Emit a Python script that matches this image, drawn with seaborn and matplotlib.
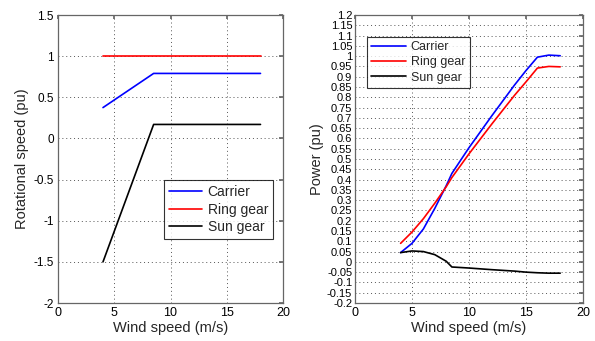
import numpy as np
import pandas as pd
import matplotlib
matplotlib.use("Agg")
import matplotlib.pyplot as plt
import seaborn as sns

# Left panel: rotational speed
speed_x = [4, 8.5, 18]
carrier_speed = [0.375, 0.79, 0.79]
ring_speed = [1.0, 1.0, 1.0]
sun_speed = [-1.5, 0.17, 0.17]

# Right panel: power
power_x = [4, 5, 6, 7, 8, 8.5, 10, 12, 14, 15, 16, 17, 18]
carrier_power = [0.045, 0.09, 0.16, 0.26, 0.37, 0.43, 0.555, 0.71, 0.86, 0.93, 0.995, 1.005, 1.002]
ring_power = [0.09, 0.145, 0.21, 0.285, 0.365, 0.41, 0.525, 0.67, 0.81, 0.875, 0.942, 0.95, 0.948]
sun_power = [0.045, 0.053, 0.05, 0.035, 0.003, -0.025, -0.03, -0.038, -0.045, -0.05, -0.053, -0.055, -0.055]

series_names = ["Carrier", "Ring gear", "Sun gear"]
colors = ["#0000ff", "#ff0000", "#000000"]

sns.set_theme(style="white")
plt.rcParams['font.family'] = ['Liberation Sans', 'DejaVu Sans']
plt.rcParams['xtick.direction'] = 'in'
plt.rcParams['ytick.direction'] = 'in'

def long_df(x, cols):
    frames = []
    for name, vals in zip(series_names, cols):
        frames.append(pd.DataFrame({"x": x, "y": vals, "series": name}))
    return pd.concat(frames, ignore_index=True)

df_speed = long_df(speed_x, [carrier_speed, ring_speed, sun_speed])
df_power = long_df(power_x, [carrier_power, ring_power, sun_power])

fig = plt.figure(figsize=(5.95, 3.41), dpi=100)
ax1 = fig.add_axes([58/595, 1 - 303/341, 225/595, 288/341])
ax2 = fig.add_axes([355/595, 1 - 303/341, 228/595, 288/341])

palette = dict(zip(series_names, colors))

sns.lineplot(data=df_speed, x="x", y="y", hue="series", palette=palette, ax=ax1, linewidth=1.2, sort=False)
sns.lineplot(data=df_power, x="x", y="y", hue="series", palette=palette, ax=ax2, linewidth=1.2, sort=False)

for ax in (ax1, ax2):
    ax.set_xlim(0, 20)
    ax.set_xticks([0, 5, 10, 15, 20])
    ax.grid(True, linestyle=(0, (1, 3)), color="#555555", linewidth=0.7)
    for s in ax.spines.values():
        s.set_color("#666666")
        s.set_linewidth(0.9)
    ax.tick_params(length=3, colors="#666666", labelcolor="black", top=True, right=True, pad=3)
    ax.tick_params(axis="x", labelsize=9)
    ax.set_xlabel("Wind speed (m/s)", fontsize=10.5, labelpad=1)

ax1.set_ylim(-2, 1.5)
ax1.set_yticks(np.arange(-2, 1.51, 0.5))
ax1.set_yticklabels(["-2", "-1.5", "-1", "-0.5", "0", "0.5", "1", "1.5"])
ax1.tick_params(axis="y", labelsize=8.5)
ax1.set_ylabel("Rotational speed (pu)", fontsize=10.5, labelpad=3)

ax2.set_ylim(-0.2, 1.2)
yt = np.round(np.arange(-0.2, 1.2001, 0.05), 2)
ax2.set_yticks(yt)
ax2.set_yticklabels([("%g" % v) if abs(v) > 1e-9 else "0" for v in yt])
ax2.tick_params(axis="y", labelsize=8, pad=2)
ax2.set_ylabel("Power (pu)", fontsize=10.5, labelpad=2)

leg1 = ax1.legend(loc="lower right", bbox_to_anchor=(0.956, 0.222), fontsize=10, frameon=True,
                  fancybox=False, edgecolor="black", handlelength=2.4, handletextpad=0.4,
                  borderpad=0.35, labelspacing=0.25, borderaxespad=0)
leg1.get_frame().set_linewidth(0.8)
leg2 = ax2.legend(loc="upper left", bbox_to_anchor=(0.053, 0.924), fontsize=9, frameon=True,
                  fancybox=False, edgecolor="black", handlelength=2.8, handletextpad=0.35,
                  borderpad=0.35, labelspacing=0.25, borderaxespad=0)
leg2.get_frame().set_linewidth(0.8)

fig.savefig("out.png", dpi=100)
